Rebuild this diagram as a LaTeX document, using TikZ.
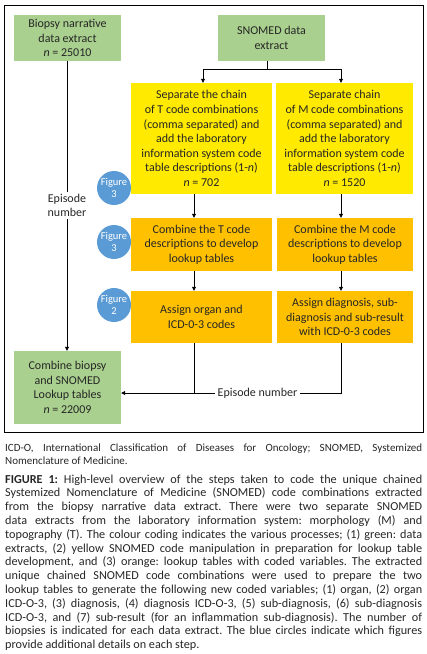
\documentclass[tikz,border=0pt]{standalone}
\usepackage{fontspec}
\setmainfont{Carlito}
\usetikzlibrary{arrows.meta}
\definecolor{boxgreen}{HTML}{A9D08E}
\definecolor{boxyellow}{HTML}{FFEA00}
\definecolor{boxorange}{HTML}{FFC000}
\definecolor{figblue}{HTML}{5B9BD5}
\definecolor{txt}{HTML}{262626}
\newcommand\jl[1]{\hbox to 417pt{\frenchspacing\spaceskip=\fontdimen2\font plus 1em minus 0.08em\relax #1}}
\begin{document}
\begin{tikzpicture}[x=1pt,y=-1pt,
  every node/.style={text=txt},
  proc/.style={inner sep=0pt, align=center, font=\fontsize{12}{14.6}\selectfont},
  greenbox/.style={proc, fill=boxgreen, minimum width=107pt},
  yellowbox/.style={proc, fill=boxyellow, minimum height=111pt},
  orangebox/.style={proc, fill=boxorange},
  figcirc/.style={circle, fill=figblue, minimum size=34pt, inner sep=0pt, align=center, text=white, font=\fontsize{10.5}{12.3}\selectfont},
  lbl/.style={align=center, inner sep=2pt, font=\fontsize{12}{14.6}\selectfont},
  conn/.style={line width=0.8pt, draw=black},
  arr/.style={conn, -{Triangle[length=4pt,width=4pt]}}
]
\useasboundingbox (0,0) rectangle (427,654);
\draw[line width=0.8pt] (4,5) rectangle (423,432);

\node[greenbox, minimum height=46pt] (bio) at (67.5,38) {Biopsy narrative\\data extract\\\textit{n} = 25010};
\node[greenbox, minimum height=46pt] (sno) at (271.5,38) {SNOMED data\\extract};
\node[yellowbox, minimum width=141pt] (yT) at (201.5,138.5) {Separate the chain\\of T code combinations\\(comma separated) and\\add the laboratory\\information system code\\table descriptions (1-\textit{n})\\\textit{n} = 702};
\node[yellowbox, minimum width=137pt] (yM) at (344.5,138.5) {Separate chain\\of M code combinations\\(comma separated) and\\add the laboratory\\information system code\\table descriptions (1-\textit{n})\\\textit{n} = 1520};
\node[orangebox, minimum width=141pt, minimum height=53pt] (oT) at (201.5,244.5) {Combine the T code\\descriptions to develop\\lookup tables};
\node[orangebox, minimum width=136pt, minimum height=53pt] (oM) at (345,244.5) {Combine the M code\\descriptions to develop\\lookup tables};
\node[orangebox, minimum width=141pt, minimum height=52pt] (aT) at (201.5,317) {Assign organ and\\ICD-0-3 codes};
\node[orangebox, minimum width=136pt, minimum height=52pt] (aM) at (345,317) {Assign diagnosis, sub-\\diagnosis and sub-result\\with ICD-0-3 codes};
\node[greenbox, minimum height=73pt] (comb) at (67.5,387.5) {Combine biopsy\\and SNOMED\\Lookup tables\\\textit{n} = 22009};

\node[figcirc] (c1) at (114,188) {Figure\\3};
\node[figcirc] (c2) at (114,242) {Figure\\3};
\node[figcirc] (c3) at (114,305) {Figure\\2};

\node[lbl] (ep1) at (67,205.5) {Episode\\number};
\node[lbl, inner xsep=3pt] (ep2) at (257.5,393) {Episode number};

\coordinate (split) at (267,69);
\coordinate (tTop) at (203,0);
\coordinate (tCol) at (194,0);
\coordinate (mCol) at (341,0);
\coordinate (bCol) at (67,0);
\coordinate (join) at (194,393);

\draw[conn] (sno.south -| split) -- (split);
\draw[arr] (split) -| (yT.north -| tTop);
\draw[arr] (split) -| (yM.north -| mCol);
\draw[arr] (yT.south -| tCol) -- (oT.north -| tCol);
\draw[arr] (oT.south -| tCol) -- (aT.north -| tCol);
\draw[arr] (yM.south -| mCol) -- (oM.north -| mCol);
\draw[arr] (oM.south -| mCol) -- (aM.north -| mCol);
\draw[conn] (bio.south -| bCol) -- (ep1.north -| bCol);
\draw[arr] (ep1.south -| bCol) -- (comb.north -| bCol);
\draw[arr] (aT.south -| tCol) -- (join) -- (comb.east |- join);
\draw[conn] (aM.south -| mCol) |- (ep2.east);
\draw[conn] (ep2.west) -- (join);

\node[anchor=north west, inner sep=0pt, font=\fontsize{11}{13}\selectfont] (abbr) at (5,443.5)
{\vbox{\jl{ICD-O, International Classification of Diseases for Oncology; SNOMED, Systemized}\hbox{Nomenclature of Medicine.}}};

\node[anchor=north west, inner sep=0pt, font=\fontsize{12.2}{13.8}\selectfont] (cap) at (5,474.5)
{\vbox{\jl{\textbf{FIGURE 1:} High-level overview of the steps taken to code the unique chained}%
\jl{Systemized Nomenclature of Medicine (SNOMED) code combinations extracted}%
\jl{from the biopsy narrative data extract. There were two separate SNOMED}%
\jl{data extracts from the laboratory information system: morphology (M) and}%
\jl{topography (T). The colour coding indicates the various processes; (1) green: data}%
\jl{extracts, (2) yellow SNOMED code manipulation in preparation for lookup table}%
\jl{development, and (3) orange: lookup tables with coded variables. The extracted}%
\jl{unique chained SNOMED code combinations were used to prepare the two}%
\jl{lookup tables to generate the following new coded variables; (1) organ, (2) organ}%
\jl{ICD-O-3, (3) diagnosis, (4) diagnosis ICD-O-3, (5) sub-diagnosis, (6) sub-diagnosis}%
\jl{ICD-O-3, and (7) sub-result (for an inflammation sub-diagnosis). The number of}%
\jl{biopsies is indicated for each data extract. The blue circles indicate which figures}%
\hbox{provide additional details on each step.}}};
\end{tikzpicture}
\end{document}
